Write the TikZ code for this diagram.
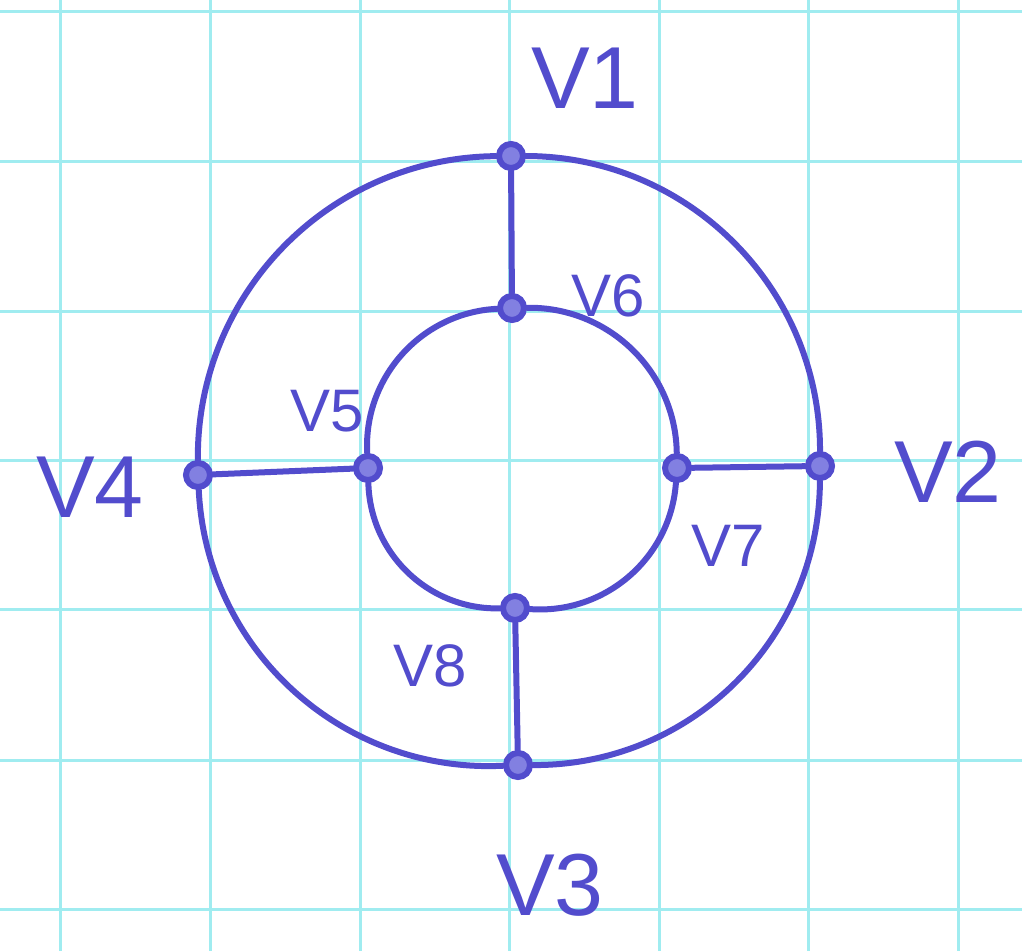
\documentclass[tikz,border=0pt]{standalone}
\usepackage{fontspec}
\setmainfont{Liberation Sans}
\definecolor{ink}{RGB}{82,76,205}
\definecolor{inkl}{RGB}{130,128,225}
\definecolor{gridc}{RGB}{160,236,240}
\begin{document}
\begin{tikzpicture}[x=1pt,y=1pt,
  vtx/.style={circle,draw=ink,fill=inkl,line width=6pt,minimum size=24pt,inner sep=0pt},
  edge/.style={draw=ink,line width=6pt,line cap=round},
  biglab/.style={text=ink,font=\fontsize{88}{88}\selectfont,inner sep=0pt},
  smlab/.style={text=ink,font=\fontsize{60}{60}\selectfont,inner sep=0pt}]
\useasboundingbox (0,0) rectangle (1022,951);
\fill[white] (0,0) rectangle (1022,951);
% grid
\foreach \gx in {60,210,360,509,659,808,958}
  \draw[gridc,line width=3pt] (\gx,0) -- (\gx,951);
\foreach \gy in {939,789,639,490,341,191,42}
  \draw[gridc,line width=3pt] (0,\gy) -- (1022,\gy);
% vertices
\node[vtx] (v1) at (511,795) {};
\node[vtx] (v2) at (820,485) {};
\node[vtx] (v3) at (518,186) {};
\node[vtx] (v4) at (198,476) {};
\node[vtx] (v5) at (368,483) {};
\node[vtx] (v6) at (512,643) {};
\node[vtx] (v7) at (677,483) {};
\node[vtx] (v8) at (515,343) {};
% outer cycle
\draw[edge] (v1) to[bend left=45] (v2);
\draw[edge] (v2) to[bend left=45] (v3);
\draw[edge] (v3) to[bend left=45] (v4);
\draw[edge] (v4) to[bend left=45] (v1);
% inner cycle
\draw[edge] (v6) to[bend left=45] (v7);
\draw[edge] (v7) to[bend left=45] (v8);
\draw[edge] (v8) to[bend left=45] (v5);
\draw[edge] (v5) to[bend left=45] (v6);
% spokes
\draw[edge] (v1) -- (v6);
\draw[edge] (v7) -- (v2);
\draw[edge] (v8) -- (v3);
\draw[edge] (v4) -- (v5);
% labels
\node[biglab] (l1) at (585,873) {V1};
\node[biglab] (l2) at (948,479) {V2};
\node[biglab] (l3) at (550,66) {V3};
\node[biglab] (l4) at (90,464) {V4};
\node[smlab] (l5) at (327,540) {V5};
\node[smlab] (l6) at (608,655) {V6};
\node[smlab] (l7) at (728,405) {V7};
\node[smlab] (l8) at (430,285) {V8};
\end{tikzpicture}
\end{document}
